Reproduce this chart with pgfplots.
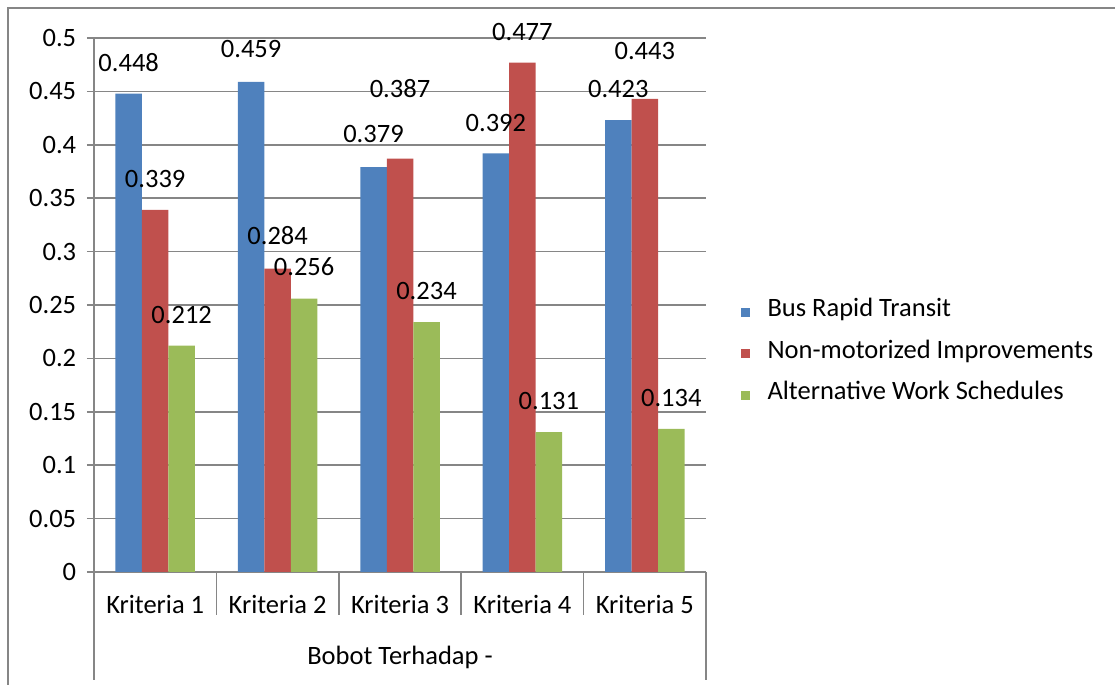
\documentclass[border=0pt]{standalone}
\usepackage{pgfplots}
\usepackage{pgfplotstable}
\pgfplotsset{compat=1.18}
\usepackage{fontspec}
\setmainfont{Carlito}
\definecolor{cblue}{HTML}{4F81BD}
\definecolor{cred}{HTML}{C0504D}
\definecolor{cgreen}{HTML}{9BBB59}
\definecolor{cgrid}{HTML}{868686}
\pgfplotstableread{
x y off
0 0.448 6.4
1 0.459 7.4
2 0.379 7.4
3 0.392 6.4
4 0.423 6.4
}\brt
\pgfplotstableread{
x y off
0 0.339 6.4
1 0.284 7.4
2 0.387 25.9
3 0.477 6.4
4 0.443 14.9
}\nmi
\pgfplotstableread{
x y off
0 0.212 6.4
1 0.256 6.9
2 0.234 6.4
3 0.131 6.4
4 0.134 6.4
}\aws
\begin{document}
\fontsize{13.25}{16}\selectfont
\begin{tikzpicture}
\begin{axis}[
  at={(47pt,56.5pt)}, anchor=south west,
  scale only axis, width=306pt, height=267pt,
  font=\fontsize{13.25}{16}\selectfont,
  ybar=0pt, bar width=13.25pt,
  xmin=-0.5, xmax=4.5, ymin=0, ymax=0.5,
  xtick={0,1,2,3,4},
  xticklabels={Kriteria 1,Kriteria 2,Kriteria 3,Kriteria 4,Kriteria 5},
  ytick={0,0.05,0.1,0.15,0.2,0.25,0.3,0.35,0.4,0.45,0.5},
  /pgf/number format/.cd, fixed, precision=3, assume math mode=true, /pgfplots/.cd,
  separate axis lines,
  axis x line*=bottom, axis y line*=left,
  axis line style={cgrid, line width=0.75pt, -},
  ymajorgrids, major grid style={cgrid, line width=0.75pt},
  xtick style={draw=none},
  ytick style={cgrid, line width=0.75pt},
  tick align=outside, major tick length=3.5pt,
  yticklabel style={anchor=east, xshift=-0.8pt},
  xticklabel style={anchor=center, yshift=-12.5pt},
  xlabel={Bobot Terhadap -},
  x label style={at={(axis description cs:0.5,0)}, anchor=center, yshift=-42.5pt},
  clip=false,
  nodes near coords,
  visualization depends on={\thisrow{off} \as \off},
  every node near coord/.append style={anchor=south, yshift=\off pt, black},
  legend style={at={(rel axis cs:1.046,0.4120)}, anchor=west, draw=none, fill=none,
    row sep=4.25pt, nodes={inner sep=2pt, text height=9.5pt, text depth=3pt},
    /tikz/every odd column/.append style={column sep=7pt}},
  legend cell align=left,
  legend image code/.code={\fill[#1, draw=none] (0pt,-3.25pt) rectangle (4.5pt,1.25pt);},
]
\addplot[fill=cblue, draw=none] table[x=x, y=y] {\brt};
\addplot[fill=cred, draw=none] table[x=x, y=y] {\nmi};
\addplot[fill=cgreen, draw=none] table[x=x, y=y] {\aws};
\legend{Bus Rapid Transit, Non-motorized Improvements, Alternative Work Schedules}
\foreach \xx in {0.5,1.5,2.5,3.5} {
  \edef\tmp{\noexpand\draw[cgrid, line width=0.75pt] (axis cs:\xx,0) -- ++(0pt,-21.5pt);}\tmp
}
\draw[cgrid, line width=0.75pt] (axis cs:-0.5,0) -- ++(0pt,-54pt);
\draw[cgrid, line width=0.75pt] (axis cs:4.5,0) -- ++(0pt,-54pt);
\end{axis}
\draw[cgrid, line width=0.75pt] (4pt,-20pt) -- (4pt,338.5pt) -- (600pt,338.5pt);
\pgfresetboundingbox
\path (0,0) rectangle (557.5pt,342.5pt);
\end{tikzpicture}
\end{document}
